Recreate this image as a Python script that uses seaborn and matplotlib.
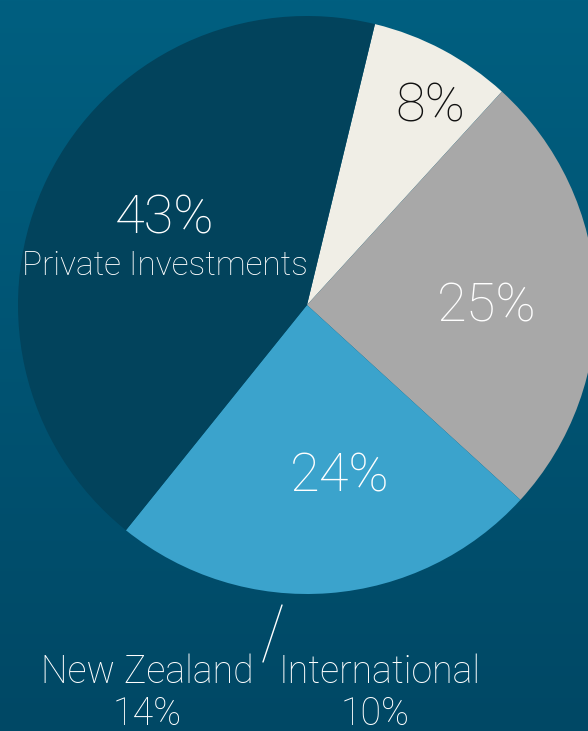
import numpy as np
import seaborn as sns
import matplotlib.pyplot as plt
from matplotlib.colors import LinearSegmentedColormap

# portfolio split (%)
segments = ['Other', 'Growth', 'Listed', 'Private Investments']
shares = [8, 25, 24, 43]
colors = ['#f0eee6', '#a8a8a8', '#3ba3cc', '#02435c']
pct_labels = ['8%', '25%', '24%', '43%']

# listed equities breakdown
listed_names = ['New Zealand', 'International']
listed_pcts = ['14%', '10%']

sns.set_style('white')
plt.rcParams['font.family'] = ['Roboto', 'DejaVu Sans']

W, H = 588, 731
fig = plt.figure(figsize=(W / 100, H / 100), dpi=100)
ax = fig.add_axes([0, 0, 1, 1])

# background gradient
bg = LinearSegmentedColormap.from_list('bg', ['#004865', '#005f80'])
grad = np.linspace(0, 1, 256).reshape(-1, 1)
ax.imshow(grad, cmap=bg, extent=(0, W, 0, H), origin='lower', aspect='auto', zorder=0)

ax.pie(shares, colors=colors, startangle=76.4, counterclock=False,
       center=(307, 426), radius=289, wedgeprops=dict(linewidth=0, zorder=1))

ax.set_xlim(0, W)
ax.set_ylim(0, H)
ax.set_aspect('auto')
ax.axis('off')

big = 39
kw = dict(ha='center', va='baseline', fontweight='light', zorder=3)
ax.text(430, 609, pct_labels[0], color='#111111', fontsize=big, **kw)
ax.text(487, 410, pct_labels[1], color='white', fontsize=big, **kw)
ax.text(340, 240, pct_labels[2], color='white', fontsize=big, **kw)
ax.text(165, 498, pct_labels[3], color='white', fontsize=big, **kw)
ax.text(165, 456, segments[3], color='white', fontsize=24, **kw)

ax.text(147, 48, listed_names[0], color='white', fontsize=27, **kw)
ax.text(380, 48, listed_names[1], color='white', fontsize=27, **kw)
ax.text(147, 6, listed_pcts[0], color='white', fontsize=27, **kw)
ax.text(375, 6, listed_pcts[1], color='white', fontsize=27, **kw)

ax.plot([282, 263], [H - 605, H - 662], color='white', lw=1, zorder=3)

fig.savefig('out.png', dpi=100)
